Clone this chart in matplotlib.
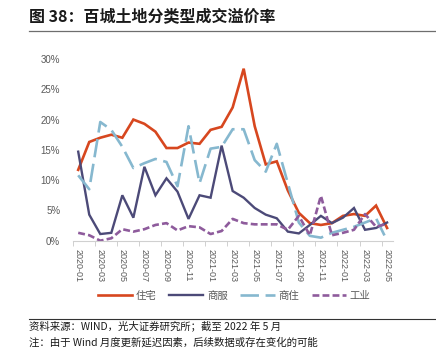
import numpy as np
import matplotlib
matplotlib.use('Agg')
import matplotlib.pyplot as plt
from matplotlib.lines import Line2D

cjk = ['Noto Sans CJK SC', 'DejaVu Sans']
plt.rcParams['font.family'] = cjk

# Monthly categories, 2020-01 .. 2022-05.
months = ['2020-01', '2020-02', '2020-03', '2020-04', '2020-05', '2020-06', '2020-07', '2020-08',
	'2020-09', '2020-10', '2020-11', '2020-12', '2021-01', '2021-02', '2021-03', '2021-04',
	'2021-05', '2021-06', '2021-07', '2021-08', '2021-09', '2021-10', '2021-11', '2021-12',
	'2022-01', '2022-02', '2022-03', '2022-04', '2022-05']

# Premium rate (%) by land type.
residential = [11.7, 16.3, 17.0, 17.5, 17.0, 20.0, 19.3, 18.0, 15.3, 15.3, 16.2, 16.0, 18.3, 18.8,
	22.0, 28.4, 18.9, 12.6, 13.1, 8.3, 4.6, 2.9, 2.6, 2.9, 4.1, 4.4, 4.1, 5.8, 2.1]
commercial = [14.7, 4.3, 1.1, 1.3, 7.5, 3.8, 12.2, 7.5, 10.3, 8.1, 3.6, 7.5, 7.1, 15.7,
	8.2, 7.1, 5.4, 4.3, 3.7, 1.5, 1.2, 2.6, 4.1, 2.9, 3.8, 5.4, 1.8, 2.1, 3.0]
mixed = [10.8, 8.5, 19.6, 18.3, 15.5, 12.0, 12.8, 13.5, 13.0, 9.0, 18.9, 9.5, 15.2, 15.5,
	18.4, 18.4, 13.3, 11.4, 16.0, 9.5, 3.0, 0.8, 0.5, 1.3, 1.8, 2.3, 3.0, 3.7, 0.0]
industrial = [1.3, 0.9, 0.0, 0.4, 1.9, 1.5, 1.9, 2.6, 2.9, 1.7, 2.4, 2.2, 1.1, 1.6,
	3.6, 2.9, 2.7, 2.7, 2.7, 1.8, 4.1, 0.9, 7.4, 0.9, 1.3, 1.8, 4.4, 2.3, 2.8]

series_names = ['住宅', '商服', '商住', '工业']
y_ticks = [0, 5, 10, 15, 20, 25, 30]

title = '图 38：百城土地分类型成交溢价率'
source_lines = ['资料来源：WIND，光大证券研究所；截至 2022 年 5 月',
	'注：由于 Wind 月度更新延迟因素，后续数据或存在变化的可能']

W, H = 436, 359
fig = plt.figure(figsize=(W / 100.0, H / 100.0), dpi=100)

# Title and rules.
fig.text(29 / W, 1 - 17 / H, title, fontsize=11.5, fontweight='bold', color='#1a1a1a',
	family=cjk, va='center', ha='left')
fig.add_artist(Line2D([29 / W, 1.0], [1 - 31 / H, 1 - 31 / H], color='#6e6e6e', lw=0.9))
fig.add_artist(Line2D([29 / W, 1.0], [1 - 319 / H, 1 - 319 / H], color='#333333', lw=0.8))
for i, s in enumerate(source_lines):
	fig.text(29 / W, 1 - (326 + 16.5 * i) / H, s, fontsize=7.5, color='#1a1a1a',
		family=cjk, va='center', ha='left')

ax = fig.add_axes([72.7 / W, 1 - 240.7 / H, (392.6 - 72.7) / W, (240.7 - 59.0) / H])
x = np.arange(len(months))

ax.plot(x, residential, color='#d7471f', lw=1.9, label=series_names[0], solid_joinstyle='miter')
ax.plot(x, commercial, color='#4c4a78', lw=1.7, label=series_names[1], solid_joinstyle='miter')
ax.plot(x, mixed, color='#86b8cf', lw=1.9, label=series_names[2], dashes=(7, 2.5))
ax.plot(x, industrial, color='#8e5b9c', lw=1.9, label=series_names[3], dashes=(2.6, 1.2))

ax.set_xlim(-0.5, len(months) - 0.5)
ax.set_ylim(0, 30)

ax.set_yticks(y_ticks)
ax.set_yticklabels(['%d%%' % v for v in y_ticks], family=['Liberation Sans', 'DejaVu Sans'])
ax.tick_params(axis='y', length=0, pad=9, labelsize=7, labelcolor='#595959')

ax.set_xticks(x[::2])
ax.set_xticklabels(months[::2], rotation=270, family=['Liberation Sans', 'DejaVu Sans'])
ax.tick_params(axis='x', which='major', length=0, pad=6, labelsize=6.5, labelcolor='#595959')
ax.set_xticks(np.arange(-0.5, len(months) - 1, 2), minor=True)
ax.tick_params(axis='x', which='minor', length=3.5, width=0.7, color='#d0d0d0', direction='out')

for side in ['top', 'right', 'left']:
	ax.spines[side].set_visible(False)
ax.spines['bottom'].set_color('#d0d0d0')
ax.spines['bottom'].set_linewidth(0.8)

handles, labels = ax.get_legend_handles_labels()
fig.legend(handles, labels, loc='center', bbox_to_anchor=(234 / W, 1 - 296 / H), ncol=4,
	frameon=False, fontsize=7.5, handlelength=3.3, handletextpad=0.35, columnspacing=1.2,
	labelcolor='#595959', prop={'family': cjk, 'size': 7.5})

fig.savefig('out.png', dpi=100)
plt.close(fig)
